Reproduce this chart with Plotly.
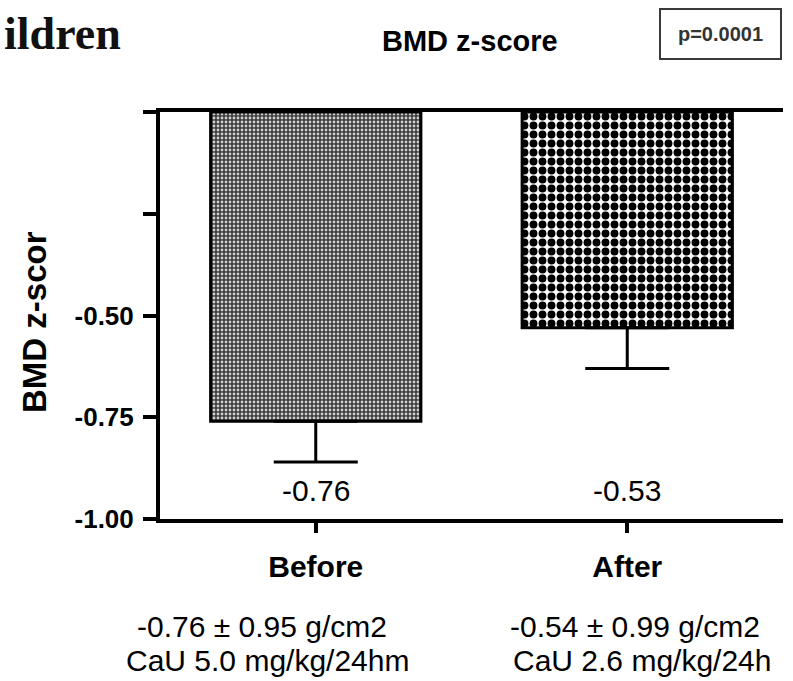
import plotly.graph_objects as go

# ---- data ----
categories = ["Before", "After"]
means = [-0.76, -0.53]
err_down = [0.10, 0.10]
summary_line1 = ["-0.76 \u00b1 0.95 g/cm2", "-0.54 \u00b1 0.99 g/cm2"]
summary_line2 = ["CaU 5.0 mg/kg/24hm", "CaU 2.6 mg/kg/24h"]
ytick_vals = [0, -0.25, -0.50, -0.75, -1.00]
ytick_text = ["", "", "-0.50", "-0.75", "-1.00"]
p_text = "p=0.0001"

W, H = 793, 681
L, R, T, B = 160, 10, 112, 162
pw, ph = W - L - R, H - T - B

def px(xpix):
    return (xpix - L) / pw

def py(ypix):
    return 1 - (ypix - T) / ph

SANS = "Arial, Liberation Sans, sans-serif"

patterns = [
    dict(shape=".", bgcolor="#3a3a3a", fgcolor="#d0d0d0", size=4, solidity=0.4, fillmode="replace"),
    dict(shape=".", bgcolor="white", fgcolor="black", size=9, solidity=0.6, fillmode="replace"),
]

fig = go.Figure()
for i, cat in enumerate(categories):
    fig.add_trace(go.Bar(
        x=[cat], y=[means[i]], width=0.675,
        marker=dict(color="white", line=dict(color="black", width=3), pattern=patterns[i]),
        error_y=dict(type="data", symmetric=False, array=[0], arrayminus=[err_down[i]],
                     color="black", thickness=3, width=42),
        showlegend=False, hoverinfo="skip",
    ))

annotations = []
# value labels
for cat, v in zip(categories, means):
    annotations.append(dict(x=cat, xref="x", y=py(490), yref="paper", text=f"{v:.2f}",
                            showarrow=False, font=dict(family=SANS, size=30, color="black"),
                            xanchor="center", yanchor="middle"))
# summary text below
xs1 = [px(262), px(635)]
xs2 = [px(267), px(642)]
for i in range(len(categories)):
    annotations.append(dict(x=xs1[i], xref="paper", y=py(626), yref="paper", text=summary_line1[i],
                            showarrow=False, font=dict(family=SANS, size=30, color="black"),
                            xanchor="center", yanchor="middle"))
    annotations.append(dict(x=xs2[i], xref="paper", y=py(660), yref="paper", text=summary_line2[i],
                            showarrow=False, font=dict(family=SANS, size=30, color="black"),
                            xanchor="center", yanchor="middle"))
# title
annotations.append(dict(x=px(470), xref="paper", y=py(41), yref="paper", text="<b>BMD z-score</b>",
                        showarrow=False, font=dict(family=SANS, size=29, color="black"),
                        xanchor="center", yanchor="middle"))
# y title
annotations.append(dict(x=px(34), xref="paper", y=py(322), yref="paper", text="<b>BMD z-scor</b>",
                        textangle=-90, showarrow=False, font=dict(family=SANS, size=33, color="black"),
                        xanchor="center", yanchor="middle"))
# p-value box
annotations.append(dict(x=px(720), xref="paper", y=py(34), yref="paper", text=f"<b>{p_text}</b>",
                        showarrow=False, font=dict(family=SANS, size=20, color="#333333"),
                        width=119, height=48, bordercolor="#3a3a3a", borderwidth=2, borderpad=0,
                        bgcolor="white", xanchor="center", yanchor="middle"))
# cropped heading (visible part)
annotations.append(dict(x=px(123), xref="paper", y=py(33), yref="paper", text="<b>ildren</b>",
                        showarrow=False, font=dict(family="Liberation Serif, Times New Roman, serif", size=46, color="#111111"),
                        xanchor="right", yanchor="middle"))

fig.update_layout(
    width=W, height=H,
    margin=dict(l=L, r=R, t=T, b=B, pad=0),
    paper_bgcolor="white", plot_bgcolor="white",
    annotations=annotations,
    xaxis=dict(
        range=[-0.5, 1.5], showgrid=False, zeroline=False,
        showline=True, linecolor="black", linewidth=4, mirror=True,
        ticks="outside", ticklen=10, tickwidth=4, tickcolor="black",
        tickfont=dict(family=SANS, size=30, color="black"),
        ticklabelstandoff=8,
        tickvals=categories, ticktext=[f"<b>{c}</b>" for c in categories],
    ),
    yaxis=dict(
        range=[-1.0, 0.0], showgrid=False, zeroline=False,
        showline=True, linecolor="black", linewidth=4, mirror=False,
        ticks="outside", ticklen=13, tickwidth=4, tickcolor="black",
        tickvals=ytick_vals, ticktext=[f"<b>{t}</b>" if t else "" for t in ytick_text],
        tickfont=dict(family=SANS, size=26, color="black"),
        ticklabelstandoff=4,
    ),
)

fig.write_html("out.html")
